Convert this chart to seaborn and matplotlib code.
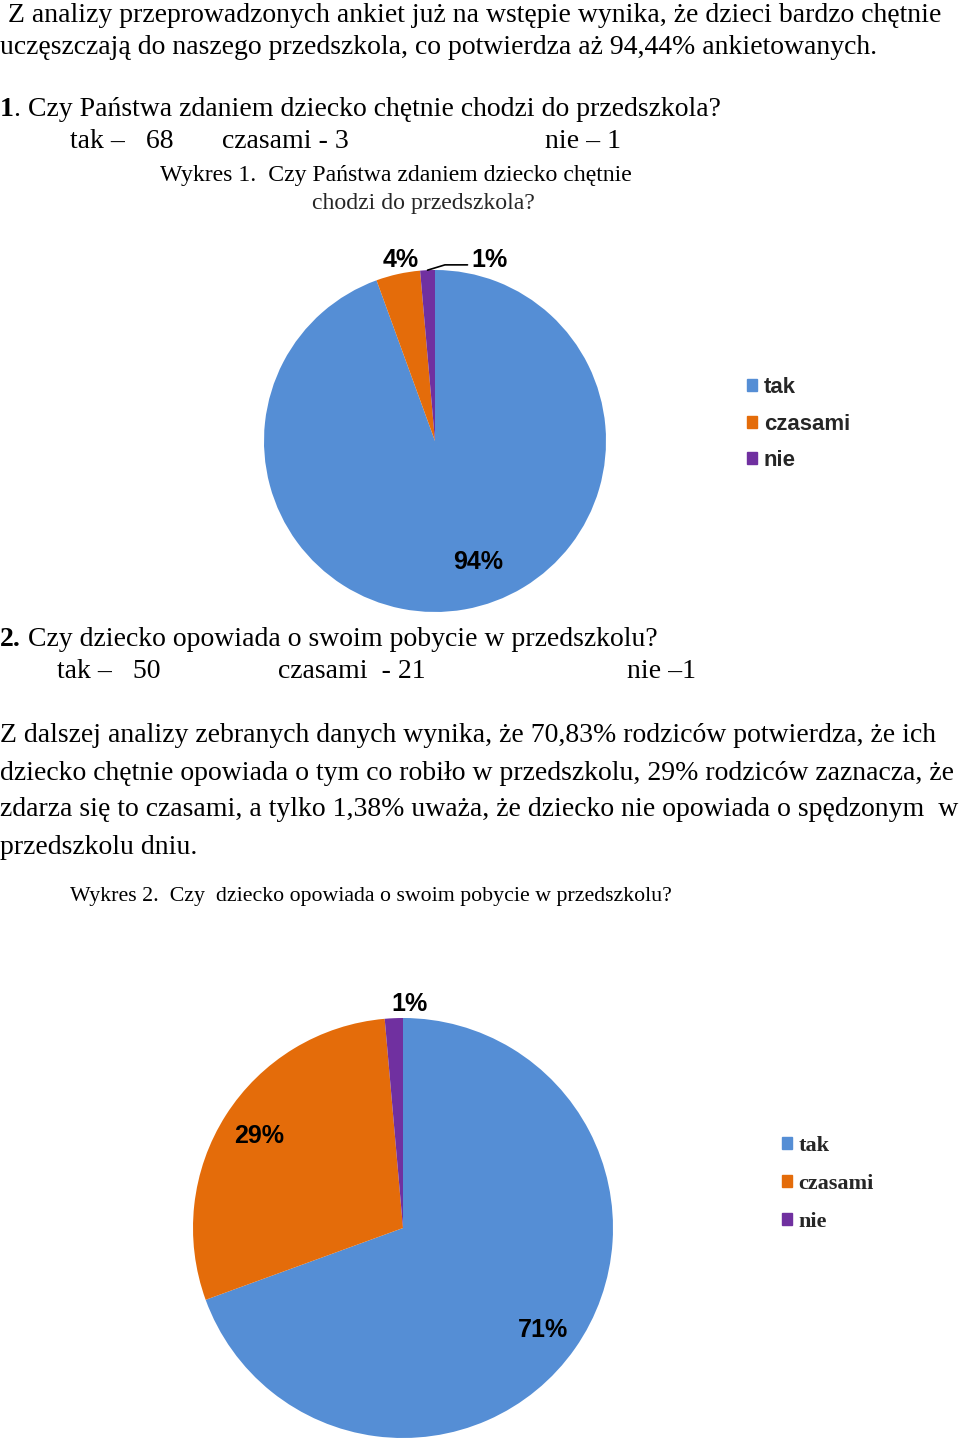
import matplotlib
matplotlib.use("Agg")
import matplotlib.pyplot as plt
import seaborn as sns
from matplotlib.patches import Patch
import numpy as np

# ---------------- data ----------------
categories = ["tak", "czasami", "nie"]
q1_counts = [68, 3, 1]
q2_counts = [50, 21, 1]
q1_labels = ["94%", "4%", "1%"]
q2_labels = ["71%", "29%", "1%"]

intro_lines = [
    "Z analizy przeprowadzonych ankiet już na wstępie wynika, że dzieci bardzo chętnie",
    "uczęszczają do naszego przedszkola, co potwierdza aż 94,44% ankietowanych.",
]
q1_title = ("1", ". Czy Państwa zdaniem dziecko chętnie chodzi do przedszkola?")
q1_answers = ["tak –   68", "czasami - 3", "nie – 1"]
cap1 = ["Wykres 1.  Czy Państwa zdaniem dziecko chętnie", "chodzi do przedszkola?"]
q2_title = ("2.", " Czy dziecko opowiada o swoim pobycie w przedszkolu?")
q2_answers = ["tak –   50", "czasami  - 21", "nie –1"]
para_lines = [
    "Z dalszej analizy zebranych danych wynika, że 70,83% rodziców potwierdza, że ich",
    "dziecko chętnie opowiada o tym co robiło w przedszkolu, 29% rodziców zaznacza, że",
    "zdarza się to czasami, a tylko 1,38% uważa, że dziecko nie opowiada o spędzonym  w",
    "przedszkolu dniu.",
]
cap2 = "Wykres 2.  Czy  dziecko opowiada o swoim pobycie w przedszkolu?"

# ---------------- style ----------------
sns.set_theme(style="white")
plt.rcParams['font.family'] = ['Liberation Serif', 'DejaVu Serif']
colors = sns.color_palette(["#558ED5", "#E46C0A", "#7030A0"])

W, H = 960, 1440
fig = plt.figure(figsize=(9.6, 14.4), dpi=100)
fig.patch.set_facecolor("white")
renderer = fig.canvas.get_renderer()


def draw_segments(segments, x, y, size, family="Liberation Serif"):
    texts = []
    cx = x
    for s, wgt in segments:
        t = fig.text(cx / W, 1 - y / H, s, fontsize=size, fontweight=wgt,
                     family=family, ha="left", va="center", color="black")
        bb = t.get_window_extent(renderer)
        cx += bb.width
        texts.append(t)
    return texts, cx


def fit_size(segments, x, right, base=18):
    texts, end = draw_segments(segments, x, 0, base)
    for t in texts:
        t.remove()
    return base * (right - x) / (end - x)


body = fit_size([(intro_lines[0], "normal")], 8, 940)
capsz = fit_size([(cap1[0], "normal")], 160, 633)
capsz2 = fit_size([(cap2, "normal")], 70, 672)

# intro
draw_segments([(intro_lines[0], "normal")], 8, 15, body)
draw_segments([(intro_lines[1], "normal")], 0, 47, body)

# question 1
draw_segments([(q1_title[0], "bold"), (q1_title[1], "normal")], 0, 110, body)
for s, x in zip(q1_answers, [70, 222, 545]):
    draw_segments([(s, "normal")], x, 142, body)
draw_segments([(cap1[0], "normal")], 160, 176, capsz)
fig.text(423 / W, 1 - 203 / H, cap1[1], fontsize=capsz, ha="center", va="center",
         family="Liberation Serif")

# question 2
draw_segments([(q2_title[0], "bold"), (q2_title[1], "normal")], 0, 640, body)
for s, x in zip(q2_answers, [57, 278, 627]):
    draw_segments([(s, "normal")], x, 672, body)
for s, y in zip(para_lines, [736, 773, 810, 847]):
    draw_segments([(s, "normal")], 0, y, body)
draw_segments([(cap2, "normal")], 70, 896, capsz2)


# ---------------- pies ----------------
def pie_axes(cx, cy, r):
    return fig.add_axes([(cx - r) / W, 1 - (cy + r) / H, 2 * r / W, 2 * r / H])


lab_font = dict(family="Liberation Sans", fontweight="bold", fontsize=18, color="black")

# pie 1
ax1 = pie_axes(435, 441, 171)
w1, _ = ax1.pie(q1_counts, colors=colors, startangle=90, counterclock=False,
                radius=1, wedgeprops=dict(linewidth=0))
ax1.set_xlim(-1, 1); ax1.set_ylim(-1, 1); ax1.axis("off")
pos1 = [(0.25, -0.71), (-0.2, 1.06), (0.32, 1.06)]
for lab, (x, y) in zip(q1_labels, pos1):
    ax1.text(x, y, lab, ha="center", va="center", **lab_font)
# leader line for "nie"
th = np.deg2rad((w1[2].theta1 + w1[2].theta2) / 2)
ax1.plot([np.cos(th), 0.058, 0.19], [np.sin(th), 1.03, 1.03], color="black",
         lw=1.2, clip_on=False)
ax1.legend(handles=[Patch(color=c, label=l) for c, l in zip(colors, categories)],
           loc="center left", bbox_to_anchor=(747 / W, 1 - 424 / H),
           bbox_transform=fig.transFigure, frameon=False, borderpad=0, borderaxespad=0,
           handlelength=0.45, handleheight=0.45, handletextpad=0.3, labelspacing=0.71,
           prop=dict(family="Liberation Sans", weight="bold", size=16))

# pie 2
ax2 = pie_axes(403, 1228, 210)
w2, _ = ax2.pie(q2_counts, colors=colors, startangle=90, counterclock=False,
                radius=1, wedgeprops=dict(linewidth=0))
ax2.set_xlim(-1, 1); ax2.set_ylim(-1, 1); ax2.axis("off")
pos2 = [(0.667, -0.486), (-0.686, 0.438), (0.03, 1.067)]
for lab, (x, y) in zip(q2_labels, pos2):
    ax2.text(x, y, lab, ha="center", va="center", **lab_font)
ax2.legend(handles=[Patch(color=c, label=l) for c, l in zip(colors, categories)],
           loc="center left", bbox_to_anchor=(782 / W, 1 - 1184 / H),
           bbox_transform=fig.transFigure, frameon=False, borderpad=0, borderaxespad=0,
           handlelength=0.45, handleheight=0.45, handletextpad=0.3, labelspacing=0.8,
           prop=dict(family="Liberation Serif", weight="bold", size=16))

fig.savefig("out.png", dpi=100, facecolor="white")
